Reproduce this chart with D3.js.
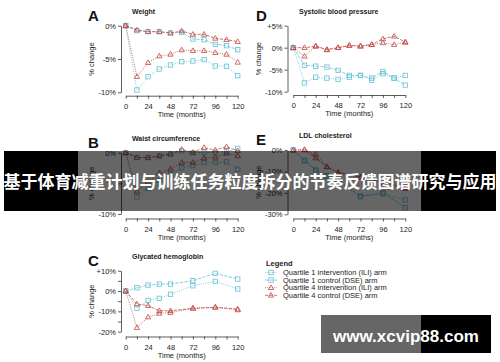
<!DOCTYPE html>
<html lang="en">
<head>
  <meta charset="UTF-8" />
  <title>Quartile change panels</title>
  <script src="https://d3js.org/d3.v7.min.js"></script>
  <style>
    body { margin: 0; background: #fff; }
    svg { display: block; font-family: "Liberation Sans", Arial, sans-serif; }
    .tick text { font-size: 7.5px; fill: #222; }
    .tick line, .domain { stroke: #333; stroke-width: 0.8; }
  </style>
</head>
<body>
  <svg width="500" height="362"></svg>
  <script>
    // time points (months)
    const monthsAll = [0, 12, 24, 36, 48, 60, 72, 84, 96, 108, 120];
    const monthsSub = [0, 12, 24, 36, 48, 72, 96, 120];
    const xLabels = [0, 24, 48, 72, 96, 120];

    // A - weight (% change)
    const weightQ1ILI = [0, -9.65, -7.65, -6.5, -5.9, -5.4, -5.3, -5.1, -6.05, -6.1, -7.5];
    const weightQ1DSE = [0, -0.75, -0.9, -0.9, -1.1, -1.0, -2.0, -2.1, -2.8, -3.0, -3.6];
    const weightQ4ILI = [0, -7.65, -5.55, -4.55, -4.3, -3.65, -3.75, -3.75, -4.05, -4.3, -5.5];
    const weightQ4DSE = [0, -0.65, -0.9, -0.9, -1.1, -0.8, -1.3, -1.3, -1.9, -2.1, -2.4];

    // B - waist circumference
    const waistQ1ILI = [0, -7.2, -5.8, -4.5, -3.6, -2.45, -2.1, -1.6, -1.6, -1.5, -2.7];
    const waistQ1DSE = [0, -0.8, -0.8, -0.5, -0.2, 0.3, 0.0, 0.05, 0.05, 0.16, 0.7];
    const waistQ4ILI = [0, -6.3, -4.8, -3.3, -2.7, -1.6, -1.6, -0.9, -0.75, -0.1, -0.5];
    const waistQ4DSE = [0, -0.76, -0.82, -0.54, -0.22, 0.54, 0.05, 0.82, 0.43, 0.98, 0.3];

    // C - glycated hemoglobin
    const hba1cQ1ILI = [0, -8.5, -4.6, -3.6, -1.6, 2.6, 4.75, 1.0];
    const hba1cQ1DSE = [0, 1.6, 2.95, 3.4, 3.4, 5.1, 8.7, 5.9];
    const hba1cQ4ILI = [0, -18.0, -12.8, -11.0, -10.6, -8.5, -8.0, -9.3];
    const hba1cQ4DSE = [0, -6.4, -7.2, -9.7, -9.7, -8.5, -8.0, -8.85];

    // D - systolic blood pressure
    const sbpQ1ILI = [0, -8.0, -6.7, -6.9, -7.2, -6.7, -6.3, -7.4, -5.9, -6.9, -6.3];
    const sbpQ1DSE = [0, -4.0, -4.2, -4.4, -5.15, -6.3, -6.3, -6.9, -5.4, -6.9, -8.5];
    const sbpQ4ILI = [0, -1.95, 0.4, -0.5, 0, 0.5, 0.3, 0.7, 1.1, 0.7, 1.2];
    const sbpQ4DSE = [0, 0, 0.3, -0.4, 0, 0.5, 0.4, 0.7, 2.0, 2.6, 1.3];

    // E - LDL cholesterol
    const ldlQ1ILI = [0, -5.0, -9.6, -12.4, -14.5, -21.8, -20.5, -23.3];
    const ldlQ1DSE = [0, -4.8, -9.3, -12.0, -14.0, -21.5, -20.0, -26.9];
    const ldlQ4ILI = [0, 0.2, -2.0, -7.8, -10.4, -12.8, -15.5, -18.0];
    const ldlQ4DSE = [0, 0, -3.7, -7.9, -10.5, -12.6, -15.0, -17.5];

    const legendLabels = [
      "Quartile 1 intervention (ILI) arm",
      "Quartile 1 control (DSE) arm",
      "Quartile 4 intervention (ILI) arm",
      "Quartile 4 control (DSE) arm"
    ];

    const bannerText = "基于体育减重计划与训练任务粒度拆分的节奏反馈图谱研究与应用";
    const watermark = "www.xcvip88.com";

    const cyan = "#66c1d6";
    const red = "#c24a44";
    // style per series: q1 ili, q1 dse, q4 ili, q4 dse
    const styles = [
      { color: cyan, dash: "1,1.3", shape: "square" },
      { color: cyan, dash: "3.2,1.4", shape: "square" },
      { color: red, dash: "1,1.3", shape: "triangle" },
      { color: red, dash: "3.2,1.4", shape: "triangle" }
    ];

    const svg = d3.select("svg");

    const panels = [
      { letter: "A", title: "Weight", left: true, top: 25.7, bottom: 92.3, dom: [0, -10],
        ticks: [0, -5, -10], labels: [0, -5, -10], xAxisY: 95.7, months: monthsAll,
        data: [weightQ1ILI, weightQ1DSE, weightQ4ILI, weightQ4DSE] },
      { letter: "B", title: "Waist circumference", left: true, top: 152.7, bottom: 214, dom: [0, -10],
        ticks: [0, -5, -10], labels: [0, -10], xAxisY: 218.5, months: monthsAll,
        data: [waistQ1ILI, waistQ1DSE, waistQ4ILI, waistQ4DSE] },
      { letter: "C", title: "Glycated hemoglobin", left: true, top: 270.7, bottom: 331.7, dom: [10, -20],
        ticks: [10, 5, 0, -5, -10, -15, -20], labels: [10, 0, -10, -20], xAxisY: 336.5, months: monthsSub,
        data: [hba1cQ1ILI, hba1cQ1DSE, hba1cQ4ILI, hba1cQ4DSE] },
      { letter: "D", title: "Systolic blood pressure", left: false, top: 25.7, bottom: 91.7, dom: [5, -10],
        ticks: [5, 0, -5, -10], labels: [5, 0, -5, -10], xAxisY: 95, months: monthsAll,
        data: [sbpQ1ILI, sbpQ1DSE, sbpQ4ILI, sbpQ4DSE] },
      { letter: "E", title: "LDL cholesterol", left: false, top: 150, bottom: 214.3, dom: [0, -30],
        ticks: [0, -10, -20, -30], labels: [0, -10, -20, -30], xAxisY: 218.5, months: monthsSub,
        data: [ldlQ1ILI, ldlQ1DSE, ldlQ4ILI, ldlQ4DSE] }
    ];

    const pct = d => (d > 0 ? "+" : d < 0 ? "-" : "") + Math.abs(d) + "%";

    function marker(g, shape, color, cx, cy) {
      if (shape === "square") {
        g.append("rect").attr("x", cx - 2.2).attr("y", cy - 2.2).attr("width", 4.4).attr("height", 4.4)
          .attr("fill", "none").attr("stroke", color).attr("stroke-width", 0.8);
      } else {
        const s = 2.8;
        g.append("path")
          .attr("d", `M${cx},${cy - s}L${cx + s * 0.95},${cy + s * 0.65}L${cx - s * 0.95},${cy + s * 0.65}Z`)
          .attr("fill", "none").attr("stroke", color).attr("stroke-width", 0.8);
      }
    }

    panels.forEach(p => {
      const axisX = p.left ? 121 : 287.5;
      const x0 = p.left ? 125.7 : 293.3;
      const g = svg.append("g");

      const x = d3.scaleLinear().domain([0, 120]).range([x0, x0 + 112]);
      const y = d3.scaleLinear().domain(p.dom).range([p.top, p.bottom]);

      g.append("g")
        .attr("transform", `translate(${axisX},0)`)
        .call(d3.axisLeft(y).tickValues(p.ticks).tickSize(3).tickSizeOuter(0).tickPadding(2)
          .tickFormat(d => p.labels.includes(d) ? pct(d) : ""));

      g.append("g")
        .attr("transform", `translate(0,${p.xAxisY})`)
        .call(d3.axisBottom(x).tickValues(monthsAll).tickSize(3).tickSizeOuter(0).tickPadding(5)
          .tickFormat(d => xLabels.includes(d) ? d : ""));

      g.append("text")
        .attr("x", x0 + 56).attr("y", p.xAxisY + 21)
        .attr("text-anchor", "middle").attr("font-size", 7.5).attr("fill", "#222")
        .text("Time (months)");

      g.append("text")
        .attr("transform", `translate(${axisX - 27},${(p.top + p.bottom) / 2}) rotate(-90)`)
        .attr("text-anchor", "middle").attr("font-size", 7.5).attr("fill", "#222")
        .text("% change");

      g.append("text")
        .attr("x", p.left ? 88 : 256).attr("y", p.top - 5)
        .attr("font-size", 15).attr("font-weight", "bold").attr("fill", "#111")
        .text(p.letter);

      g.append("text")
        .attr("x", p.left ? 132 : 299).attr("y", p.top - 12)
        .attr("font-size", 7).attr("font-weight", "bold").attr("fill", "#222")
        .text(p.title);

      const line = d3.line().x(d => x(d[0])).y(d => y(d[1]));
      p.data.forEach((vals, i) => {
        const st = styles[i];
        const pts = p.months.map((m, k) => [m, vals[k]]);
        g.append("path").datum(pts).attr("d", line)
          .attr("fill", "none").attr("stroke", st.color)
          .attr("stroke-width", 0.8).attr("stroke-dasharray", st.dash);
        pts.forEach(d => marker(g, st.shape, st.color, x(d[0]), y(d[1])));
      });
    });

    // legend
    const lg = svg.append("g");
    lg.append("text").attr("x", 266).attr("y", 265.5)
      .attr("font-size", 7.5).attr("font-weight", "bold").attr("fill", "#222").text("Legend");
    legendLabels.forEach((t, i) => {
      const yy = 272.5 + i * 7.6;
      const st = styles[i];
      lg.append("line").attr("x1", 265).attr("x2", 277).attr("y1", yy).attr("y2", yy)
        .attr("stroke", st.color).attr("stroke-width", 0.8).attr("stroke-dasharray", st.dash);
      marker(lg, st.shape, st.color, 271, yy);
      lg.append("text").attr("x", 283).attr("y", yy + 2.6)
        .attr("font-size", 7.5).attr("fill", "#222").text(t);
    });

    // banner overlay
    const band = svg.append("g");
    band.append("rect").attr("x", 4).attr("y", 151).attr("width", 74).attr("height", 60).attr("fill", "#000");
    band.append("rect").attr("x", 78).attr("y", 151).attr("width", 343).attr("height", 60).attr("fill", "#000").attr("opacity", 0.6);
    band.append("rect").attr("x", 421).attr("y", 151).attr("width", 75).attr("height", 60).attr("fill", "#000");
    band.append("text").attr("x", 250).attr("y", 188)
      .attr("text-anchor", "middle").attr("font-size", 17).attr("font-weight", "bold")
      .attr("font-family", "'Noto Sans CJK SC', sans-serif").attr("fill", "#fff")
      .text(bannerText);

    const wm = svg.append("g");
    wm.append("rect").attr("x", 321).attr("y", 315).attr("width", 100).attr("height", 38).attr("fill", "#000").attr("opacity", 0.6);
    wm.append("rect").attr("x", 421).attr("y", 315).attr("width", 70).attr("height", 38).attr("fill", "#000");
    wm.append("text").attr("x", 406).attr("y", 342)
      .attr("text-anchor", "middle").attr("font-size", 17).attr("font-weight", "bold")
      .attr("fill", "#fff").text(watermark);
  </script>
</body>
</html>
